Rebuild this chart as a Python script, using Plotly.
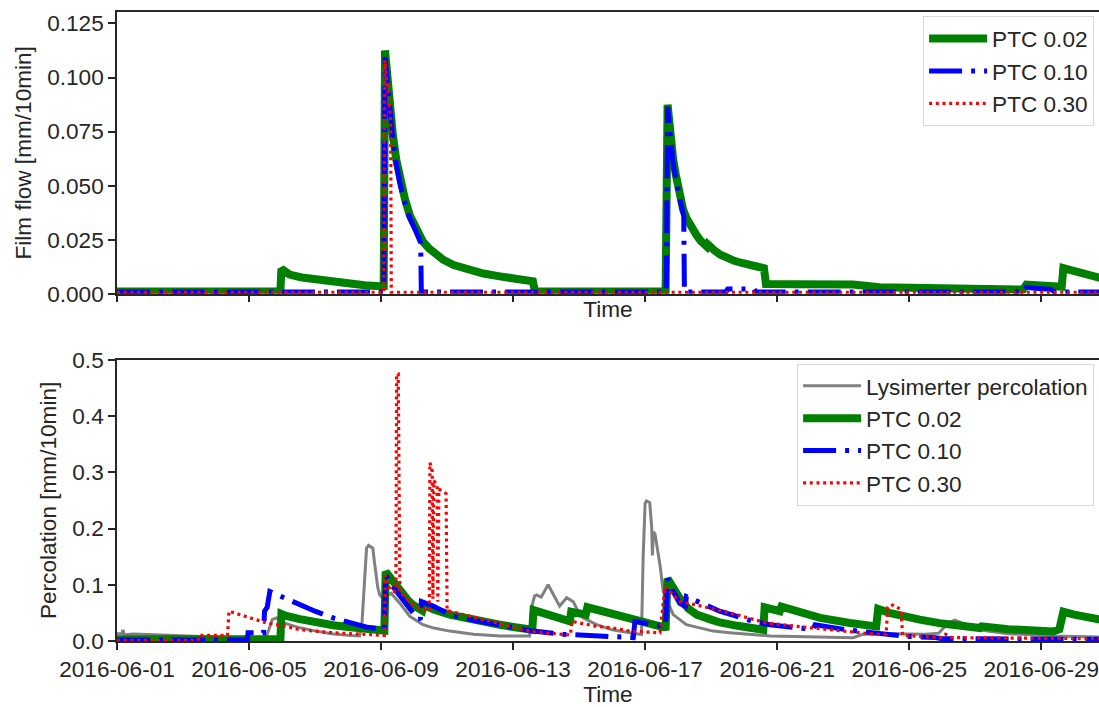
import pandas as pd
import plotly.graph_objects as go

START = pd.Timestamp("2016-06-01")

# ---------------- data (days since 2016-06-01, value in mm/10min) ----------------
# Top panel: film flow
film_002_days = [0, 4.95, 4.98, 5.1, 5.23, 5.6, 6.04, 6.5, 7.05, 7.5, 7.96, 8.08, 8.12, 8.17, 8.22,
                 8.29, 8.36, 8.46, 8.57, 8.72, 8.87, 9.05, 9.27, 9.45, 9.65, 9.88, 10.2, 10.59, 11.1,
                 11.6, 12.1, 12.6, 12.66, 16.62, 16.68, 16.76, 16.85, 16.93, 17.0, 17.08, 17.15,
                 17.25, 17.35, 17.45, 17.56, 17.68, 17.8, 17.87, 17.9, 17.95, 18.1, 18.28, 18.47,
                 18.7, 18.9, 19.2, 19.27, 19.32, 19.6, 19.66, 20.5, 22.1, 22.3, 23.1, 25.0, 27.45,
                 27.55, 28.62, 28.67, 29.0, 29.4, 29.8]
film_002_vals = [0.001, 0.001, 0.0115, 0.0098, 0.0088, 0.0075, 0.0065, 0.0054, 0.0045, 0.0039,
                 0.0034, 0.0035, 0.1125, 0.103, 0.095, 0.083, 0.073, 0.062, 0.053, 0.044, 0.0363,
                 0.030, 0.024, 0.021, 0.018, 0.0157, 0.0132, 0.0111, 0.0093, 0.008, 0.0068, 0.0057,
                 0.001, 0.001, 0.0874, 0.073, 0.062, 0.055, 0.049, 0.044, 0.039, 0.035, 0.032, 0.029,
                 0.027, 0.0245, 0.0225, 0.0218, 0.0228, 0.0218, 0.020, 0.018, 0.0164, 0.0152, 0.0143,
                 0.0128, 0.0134, 0.0128, 0.0118, 0.0045, 0.0043, 0.0040, 0.0042, 0.003, 0.0025,
                 0.0019, 0.0042, 0.0032, 0.0118, 0.0105, 0.0088, 0.0072]

film_010_days = [0, 8.08, 8.12, 8.17, 8.22, 8.29, 8.36, 8.46, 8.57, 8.72, 8.87, 9.05, 9.2, 9.22,
                 16.64, 16.68, 16.76, 16.85, 16.93, 17.0, 17.08, 17.17, 17.19, 18.45, 18.5, 19.3,
                 19.35, 27.5, 27.55, 27.8, 28.3, 28.4, 29.8]
film_010_vals = [0.0008, 0.0008, 0.1095, 0.1, 0.092, 0.081, 0.071, 0.06, 0.051, 0.042, 0.035, 0.029,
                 0.0235, 0.0008, 0.0008, 0.0865, 0.071, 0.06, 0.053, 0.047, 0.042, 0.036, 0.0008,
                 0.0008, 0.0022, 0.0022, 0.0008, 0.0008, 0.003, 0.0025, 0.002, 0.0008, 0.0008]

film_030_days = [0, 8.08, 8.11, 8.2, 8.29, 8.31, 29.8]
film_030_vals = [0.0006, 0.0006, 0.108, 0.095, 0.082, 0.0006, 0.0006]

# Bottom panel: percolation
lys_days = [0, 0.15, 0.18, 0.22, 0.5, 1.5, 2.5, 3.3, 4.0, 4.5, 4.6, 4.7, 4.83, 5.0, 5.54, 6.0, 6.5,
            7.0, 7.35, 7.42, 7.5, 7.56, 7.62, 7.75, 7.8, 7.9, 7.96, 8.06, 8.3, 8.57, 8.87, 9.27,
            9.6, 10.08, 10.8, 11.6, 12.5, 12.56, 12.65, 12.71, 12.85, 13.06, 13.2, 13.41, 13.62,
            13.82, 13.95, 14.12, 14.53, 15.0, 15.54, 15.89, 15.94, 16.0, 16.04, 16.14, 16.2,
            16.22, 16.25, 16.3, 16.45, 16.55, 16.85, 17.25, 18.06, 18.57, 19.8, 21.0, 22.3, 22.6,
            23.5, 24.5, 24.9, 25.2, 25.38, 25.6, 26.1, 27.0, 28.4, 29.8]
lys_vals = [0.013, 0.013, 0.02, 0.011, 0.0125, 0.01, 0.008, 0.006, 0.005, 0.006, 0.02, 0.038, 0.041,
            0.033, 0.0234, 0.018, 0.013, 0.01, 0.0088, 0.03, 0.12, 0.165, 0.170, 0.165, 0.14, 0.095,
            0.082, 0.076, 0.085, 0.067, 0.044, 0.029, 0.023, 0.0176, 0.012, 0.0088, 0.0088, 0.06,
            0.08, 0.082, 0.078, 0.1, 0.085, 0.062, 0.077, 0.070, 0.055, 0.041, 0.029, 0.02, 0.0146,
            0.0117, 0.15, 0.245, 0.249, 0.246, 0.2, 0.152, 0.194, 0.19, 0.135, 0.088, 0.047, 0.029,
            0.0176, 0.0146, 0.009, 0.007, 0.006, 0.012, 0.013, 0.012, 0.014, 0.033, 0.037, 0.032,
            0.02, 0.013, 0.009, 0.007]

perc_002_days = [0, 4.95, 4.98, 5.1, 5.54, 6.0, 6.55, 7.0, 7.56, 8.06, 8.1, 8.14, 8.2, 8.3, 8.41,
                 8.54, 8.67, 8.82, 8.97, 9.17, 9.25, 9.3, 9.35, 9.6, 10.08, 10.8, 11.6, 12.0, 12.5,
                 12.58, 12.62, 13.0, 13.4, 13.72, 13.76, 14.1, 14.2, 14.25, 14.6, 15.0, 15.54, 16.0,
                 16.55, 16.62, 16.68, 16.76, 16.85, 16.95, 17.05, 17.3, 17.56, 18.0, 18.26, 18.8,
                 19.27, 19.58, 19.62, 20.0, 20.08, 20.13, 20.6, 21.3, 22.2, 23.0, 23.06, 23.4, 24.32,
                 25.0, 26.14, 26.2, 27.0, 28.36, 28.55, 28.58, 28.62, 28.67, 29.0, 29.8]
perc_002_vals = [0.003, 0.003, 0.048, 0.045, 0.039, 0.033, 0.028, 0.025, 0.0217, 0.0187, 0.0187, 0.123,
                 0.118, 0.11, 0.1, 0.09, 0.082, 0.072, 0.064, 0.056, 0.054, 0.064, 0.062, 0.056, 0.047,
                 0.037, 0.029, 0.025, 0.020, 0.020, 0.055, 0.048, 0.041, 0.035, 0.052, 0.047, 0.047,
                 0.060, 0.054, 0.048, 0.041, 0.033, 0.0246, 0.025, 0.111, 0.103, 0.095, 0.085, 0.076,
                 0.058, 0.047, 0.038, 0.033, 0.027, 0.023, 0.020, 0.060, 0.054, 0.053, 0.061, 0.052,
                 0.041, 0.032, 0.026, 0.057, 0.050, 0.038, 0.031, 0.023, 0.026, 0.021, 0.017, 0.021,
                 0.030, 0.032, 0.052, 0.047, 0.038]

perc_010_days = [0, 3.95, 3.97, 4.44, 4.47, 4.55, 4.63, 5.0, 5.54, 6.0, 6.55, 7.0, 7.56, 8.06, 8.1,
                 8.14, 8.25, 8.47, 8.97, 9.19, 9.22, 9.58, 10.08, 10.8, 11.6, 12.6, 13.5, 14.53,
                 15.64, 15.69, 16.0, 16.55, 16.62, 16.68, 16.85, 17.05, 17.22, 17.25, 17.6, 18.26,
                 19.27, 19.78, 20.5, 21.09, 21.15, 22.1, 23.0, 23.3, 24.0, 24.8, 25.0, 29.8]
perc_010_vals = [0.002, 0.002, 0.0146, 0.0146, 0.053, 0.06, 0.088, 0.078, 0.064, 0.053, 0.041, 0.033,
                 0.0246, 0.0205, 0.021, 0.118, 0.105, 0.088, 0.05, 0.038, 0.07, 0.062, 0.047, 0.037,
                 0.029, 0.0176, 0.012, 0.0088, 0.006, 0.035, 0.031, 0.026, 0.026, 0.111, 0.088,
                 0.067, 0.062, 0.079, 0.07, 0.053, 0.035, 0.029, 0.024, 0.021, 0.029, 0.02, 0.014,
                 0.012, 0.008, 0.006, 0.004, 0.003]

perc_030_days = [0, 2.45, 2.5, 3.35, 3.39, 3.7, 4.02, 4.53, 5.13, 5.54, 6.55, 7.3, 8.06, 8.1, 8.13,
                 8.2, 8.3, 8.4, 8.45, 8.47, 8.52, 8.55, 8.57, 8.97, 9.42, 9.46, 9.48, 9.55, 9.57, 9.6,
                 9.7, 9.72, 9.75, 9.97, 10.0, 10.08, 11.5, 12.5, 13.5, 13.74, 13.77, 14.53, 15.03,
                 15.54, 16.45, 16.6, 17.05, 17.56, 18.57, 19.68, 21.09, 23.0, 23.3, 23.35, 23.5,
                 23.75, 23.8, 24.5, 25.0, 25.1, 25.3, 29.8]
perc_030_vals = [0.001, 0.001, 0.01, 0.01, 0.053, 0.047, 0.041, 0.032, 0.026, 0.02, 0.0146, 0.012,
                 0.01, 0.01, 0.117, 0.1, 0.09, 0.088, 0.09, 0.475, 0.475, 0.09, 0.088, 0.064, 0.053,
                 0.055, 0.317, 0.302, 0.075, 0.285, 0.278, 0.07, 0.27, 0.262, 0.053, 0.053, 0.032,
                 0.0176, 0.0117, 0.011, 0.035, 0.026, 0.023, 0.0176, 0.0146, 0.097, 0.070, 0.064,
                 0.05, 0.032, 0.023, 0.012, 0.012, 0.06, 0.064, 0.056, 0.01, 0.007, 0.006, 0.012,
                 0.006, 0.004]

# ---------------- styles ----------------
FONT = "Liberation Sans, Arial, sans-serif"
FS = 22.6
TXT = "#262626"
GREEN = dict(color="green", width=8)
BLUE = dict(color="blue", width=5, dash="33px,9px,4px,9px")
RED = dict(color="red", width=3.2, dash="3px,3.7px")
GREY = dict(color="grey", width=3)


def t(days):
    return START + pd.to_timedelta(pd.Series(days), unit="D")


fig = go.Figure()
# top panel
fig.add_trace(go.Scatter(x=t(film_002_days), y=film_002_vals, mode="lines", name="PTC 0.02",
                         line=GREEN, xaxis="x", yaxis="y", legend="legend", legendgroup="a1"))
fig.add_trace(go.Scatter(x=t(film_010_days), y=film_010_vals, mode="lines", name="PTC 0.10",
                         line=BLUE, xaxis="x", yaxis="y", legend="legend", legendgroup="a2"))
fig.add_trace(go.Scatter(x=t(film_030_days), y=film_030_vals, mode="lines", name="PTC 0.30",
                         line=RED, xaxis="x", yaxis="y", legend="legend", legendgroup="a3"))
# bottom panel
fig.add_trace(go.Scatter(x=t(lys_days), y=lys_vals, mode="lines", name="Lysimerter percolation",
                         line=GREY, xaxis="x2", yaxis="y2", legend="legend2", legendgroup="b0"))
fig.add_trace(go.Scatter(x=t(perc_002_days), y=perc_002_vals, mode="lines", name="PTC 0.02",
                         line=GREEN, xaxis="x2", yaxis="y2", legend="legend2", legendgroup="b1"))
fig.add_trace(go.Scatter(x=t(perc_010_days), y=perc_010_vals, mode="lines", name="PTC 0.10",
                         line=BLUE, xaxis="x2", yaxis="y2", legend="legend2", legendgroup="b2"))
fig.add_trace(go.Scatter(x=t(perc_030_days), y=perc_030_vals, mode="lines", name="PTC 0.30",
                         line=RED, xaxis="x2", yaxis="y2", legend="legend2", legendgroup="b3"))

xr = ["2016-06-01 00:00", "2016-06-30 18:00"]
tf = dict(family=FONT, size=FS, color=TXT)
common_x = dict(range=xr, type="date", tick0="2016-06-01", dtick=4 * 86400000, tickformat="%Y-%m-%d",
                showline=True, mirror=True, linecolor=TXT, linewidth=1.5, ticks="outside", ticklen=7,
                tickwidth=1.5, tickcolor=TXT, showgrid=False, zeroline=False, tickfont=tf,
                ticklabeloverflow="allow")
common_y = dict(showline=True, linecolor=TXT, linewidth=1.5, ticks="outside", ticklen=7, tickwidth=1.5,
                tickcolor=TXT, showgrid=False, zeroline=False, tickfont=tf)

legend_common = dict(font=tf, bgcolor="rgba(255,255,255,0.8)",
                     bordercolor="#d9d9d9", borderwidth=1, xanchor="right", yanchor="top",
                     traceorder="grouped", tracegroupgap=0, itemwidth=58)

fig.update_layout(
    width=1099, height=707,
    margin=dict(l=117, r=0, t=8, b=64),
    paper_bgcolor="white", plot_bgcolor="white",
    font=tf,
    xaxis=dict(common_x, domain=[0, 1], anchor="y", showticklabels=False,
               title=dict(text="Time", font=tf, standoff=0)),
    yaxis=dict(common_y, domain=[0.5522, 1], anchor="x", range=[0, 0.1303],
               tickvals=[0, 0.025, 0.05, 0.075, 0.1, 0.125], tickformat=".3f",
               title=dict(text="Film flow [mm/10min]", font=tf, standoff=9)),
    xaxis2=dict(common_x, domain=[0, 1], anchor="y2",
                title=dict(text="Time", font=tf, standoff=9)),
    yaxis2=dict(common_y, domain=[0, 0.447], anchor="x2", range=[0, 0.5], dtick=0.1, tick0=0,
                tickformat=".1f",
                title=dict(text="Percolation [mm/10min]", font=tf, standoff=9)),
    legend=dict(legend_common, x=0.995, y=0.993),
    legend2=dict(legend_common, x=0.995, y=0.441),
)

fig.write_html("out.html")
